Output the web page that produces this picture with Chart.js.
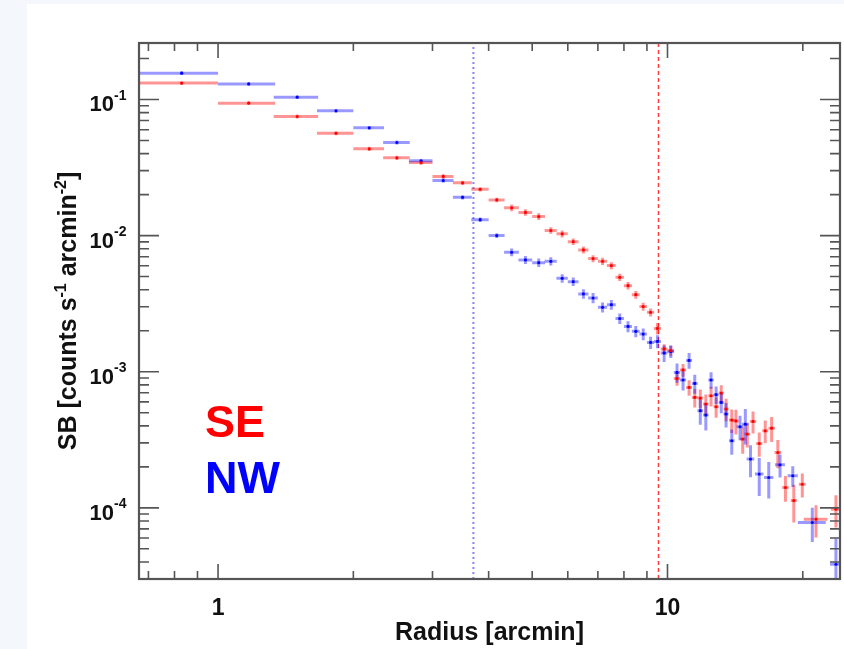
<!DOCTYPE html>
<html>
<head>
<meta charset="utf-8">
<script src="https://cdn.jsdelivr.net/npm/chart.js@4.4.1/dist/chart.umd.min.js"></script>
<style>
  html, body { margin: 0; padding: 0; background: #f4f8fc; }
  #wrap { width: 844px; height: 649px; }
</style>
</head>
<body>
<div id="wrap"><canvas id="sbChart" width="844" height="649"></canvas></div>
<script>
// surface brightness profiles
const seriesNames = ["SE", "NW"];

const seRadius = [0.83, 1.17, 1.5, 1.83, 2.17, 2.5, 2.83, 3.17, 3.5, 3.83,
  4.17, 4.5, 4.83, 5.17, 5.5, 5.83, 6.17, 6.5, 6.83, 7.17,
  7.5, 7.83, 8.17, 8.5, 8.83, 9.17, 9.5, 9.83, 10.17,
  10.5, 10.83, 11.17, 11.5, 11.83, 12.17, 12.5, 12.83, 13.17, 13.5,
  13.9, 14.2, 14.7, 15.05, 15.5, 16.0, 16.5, 17.05, 17.6, 18.3,
  19.1, 19.95, 21.4, 23.7];
const seRadiusErr = [0.17, 0.17, 0.17, 0.17, 0.17, 0.17, 0.17, 0.17, 0.17, 0.17,
  0.17, 0.17, 0.17, 0.17, 0.17, 0.17, 0.17, 0.17, 0.17, 0.17,
  0.17, 0.17, 0.17, 0.17, 0.17, 0.17, 0.17, 0.17, 0.17,
  0.17, 0.17, 0.17, 0.17, 0.17, 0.17, 0.17, 0.17, 0.17, 0.17,
  0.2, 0.2, 0.22, 0.22, 0.25, 0.25, 0.25, 0.28, 0.3, 0.3,
  0.3, 0.35, 1.3, 0.6];
const seSB = [0.132, 0.0939, 0.075, 0.0565, 0.0434, 0.0373, 0.0344, 0.0272, 0.0244, 0.0219,
  0.0183, 0.016, 0.0148, 0.0138, 0.0109, 0.0103, 0.00903, 0.00785, 0.00678, 0.00647,
  0.00602, 0.00494, 0.00429, 0.00368, 0.00301, 0.00273, 0.00208, 0.00147, 0.00143,
  0.00089, 0.00103, 0.000767, 0.000647, 0.00064, 0.000579, 0.000666, 0.000553, 0.000697, 0.000532,
  0.000441, 0.000435, 0.00032, 0.000348, 0.000431, 0.000297, 0.000368, 0.000385, 0.000255, 0.000141,
  0.000113, 0.000149, 0.0000826, 0.0000978];
const seSBErr = [0.004, 0.003, 0.0025, 0.002, 0.0015, 0.0013, 0.0012, 0.001, 0.0009, 0.0008,
  0.0007, 0.0009, 0.0008, 0.0008, 0.0006, 0.0006, 0.0005, 0.00045, 0.0004, 0.0004,
  0.00035, 0.0003, 0.00027, 0.00024, 0.0002, 0.00018, 0.0002, 0.00012, 0.00012,
  0.0001, 0.00011, 0.0001, 0.0001, 0.0001, 0.0001, 0.00011, 0.000095, 0.0001, 0.0001,
  0.000087, 0.00009, 0.00007, 0.00007, 0.00008, 0.00006, 0.00007, 0.00008, 0.00006, 0.00003,
  0.000035, 0.00003, 0.000022, 0.000026];

const nwRadius = [0.83, 1.17, 1.5, 1.83, 2.17, 2.5, 2.83, 3.17, 3.5, 3.83,
  4.17, 4.5, 4.83, 5.17, 5.5, 5.83, 6.17, 6.5, 6.83, 7.17,
  7.5, 7.83, 8.17, 8.5, 8.83, 9.17, 9.5, 9.83, 10.17, 10.5,
  10.83, 11.17, 11.5, 11.83, 12.17, 12.5, 12.83, 13.17, 13.5, 13.9,
  14.5, 14.9, 15.3, 16.0, 16.8, 17.8, 19.0, 21.0, 23.7];
const nwRadiusErr = [0.17, 0.17, 0.17, 0.17, 0.17, 0.17, 0.17, 0.17, 0.17, 0.17,
  0.17, 0.17, 0.17, 0.17, 0.17, 0.17, 0.17, 0.17, 0.17, 0.17,
  0.17, 0.17, 0.17, 0.17, 0.17, 0.17, 0.17, 0.17, 0.17, 0.17,
  0.17, 0.17, 0.17, 0.17, 0.17, 0.17, 0.17, 0.17, 0.17, 0.2,
  0.25, 0.25, 0.3, 0.35, 0.4, 0.45, 0.5, 1.5, 0.7];
const nwSB = [0.156, 0.13, 0.104, 0.0826, 0.0619, 0.0483, 0.0354, 0.0254, 0.0191, 0.0131,
  0.01, 0.00754, 0.00663, 0.00633, 0.00647, 0.00485, 0.00459, 0.00373, 0.00348, 0.00297,
  0.00311, 0.00246, 0.00215, 0.00198, 0.00189, 0.00164, 0.00167, 0.00137, 0.00141, 0.000988,
  0.000869, 0.00121, 0.00082, 0.000517, 0.00048, 0.000869, 0.000678, 0.000595, 0.000489, 0.000311,
  0.000394, 0.000412, 0.000228, 0.000177, 0.000167, 0.000207, 0.000172, 0.000078, 0.0000385];
const nwSBErr = [0.005, 0.004, 0.003, 0.0025, 0.002, 0.0016, 0.0012, 0.0009, 0.0007, 0.0005,
  0.0004, 0.0005, 0.00045, 0.00045, 0.00045, 0.00035, 0.00033, 0.0003, 0.0003, 0.00025,
  0.00026, 0.00022, 0.0002, 0.00019, 0.00019, 0.00017, 0.00018, 0.00019, 0.00015, 0.00016,
  0.00014, 0.00016, 0.00013, 0.00011, 0.00011, 0.00012, 0.0001, 0.0001, 0.0001, 0.000066,
  0.00008, 0.00012, 0.00006, 0.000055, 0.00005, 0.00004, 0.00003, 0.000022, 0.000021];

// vertical markers: NW (blue, dotted) and SE (red, dashed)
const edgeRadius = [3.7, 9.55];

// axes
const xRange = [0.667, 24.2];
const yRange = [3.0e-5, 0.26];
const xMajorTicks = [1, 10];
const xTickLabels = ["1", "10"];
const xMinorTicks = [0.7, 0.8, 0.9, 2, 3, 4, 5, 6, 7, 8, 9, 20];
const yMajorTicks = [1e-4, 1e-3, 1e-2, 1e-1];
const yTickExponents = ["-4", "-3", "-2", "-1"];
const xTitle = "Radius [arcmin]";

const FONT = '"Liberation Sans", Arial, Helvetica, sans-serif';

const backdrop = {
  id: "backdrop",
  beforeDraw(chart) {
    const ctx = chart.ctx;
    ctx.save();
    ctx.fillStyle = "#f4f8fc";
    ctx.fillRect(0, 0, chart.width, chart.height);
    ctx.fillStyle = "#ffffff";
    ctx.fillRect(27, 4, chart.width - 27, chart.height - 4);
    ctx.restore();
  }
};

const edgeLines = {
  id: "edgeLines",
  beforeDatasetsDraw(chart) {
    const { ctx, chartArea: a, scales: { x } } = chart;
    const styles = [
      { color: "rgba(110,110,255,0.85)", dash: [2, 3], width: 2 },
      { color: "rgba(255,40,40,0.9)", dash: [4, 3], width: 1.5 }
    ];
    ctx.save();
    edgeRadius.forEach((r, i) => {
      const px = x.getPixelForValue(r);
      ctx.strokeStyle = styles[i].color;
      ctx.lineWidth = styles[i].width;
      ctx.setLineDash(styles[i].dash);
      ctx.beginPath();
      ctx.moveTo(px, a.bottom);
      ctx.lineTo(px, a.top);
      ctx.stroke();
    });
    ctx.restore();
  }
};

const errorBars = {
  id: "errorBars",
  beforeDatasetsDraw(chart) {
    const { ctx, chartArea: a, scales: { x, y } } = chart;
    ctx.save();
    ctx.beginPath();
    ctx.rect(a.left, a.top, a.right - a.left, a.bottom - a.top);
    ctx.clip();
    chart.data.datasets.forEach(ds => {
      ctx.strokeStyle = ds.errColor;
      ctx.lineWidth = 3;
      ds.data.forEach((p, i) => {
        const px = x.getPixelForValue(p.x);
        const py = y.getPixelForValue(p.y);
        const x0 = x.getPixelForValue(p.x - ds.xErr[i]);
        const x1 = x.getPixelForValue(p.x + ds.xErr[i]);
        const lo = p.y - ds.yErr[i];
        const y0 = lo > 0 ? y.getPixelForValue(lo) : a.bottom + 5;
        const y1 = y.getPixelForValue(p.y + ds.yErr[i]);
        ctx.beginPath();
        ctx.moveTo(x0, py);
        ctx.lineTo(x1, py);
        ctx.moveTo(px, y0);
        ctx.lineTo(px, y1);
        ctx.stroke();
      });
    });
    ctx.restore();
  }
};

// IDL style frame: inward ticks on all four sides, labels and titles
const frame = {
  id: "frame",
  afterDraw(chart) {
    const { ctx, chartArea: a, scales: { x, y } } = chart;
    ctx.save();
    ctx.strokeStyle = "#555";
    ctx.lineWidth = 1.6;

    const tickX = (v, len) => {
      const px = x.getPixelForValue(v);
      ctx.beginPath();
      ctx.moveTo(px, a.bottom); ctx.lineTo(px, a.bottom - len);
      ctx.moveTo(px, a.top); ctx.lineTo(px, a.top + len);
      ctx.stroke();
    };
    const tickY = (v, len) => {
      const py = y.getPixelForValue(v);
      ctx.beginPath();
      ctx.moveTo(a.left, py); ctx.lineTo(a.left + len, py);
      ctx.moveTo(a.right, py); ctx.lineTo(a.right - len, py);
      ctx.stroke();
    };
    xMajorTicks.forEach(v => tickX(v, 15));
    xMinorTicks.forEach(v => tickX(v, 8));
    yMajorTicks.forEach(v => tickY(v, 20));
    for (let e = -5; e <= -1; e++) {
      for (let m = 2; m <= 9; m++) {
        const v = m * Math.pow(10, e);
        if (v > yRange[0] && v < yRange[1]) tickY(v, 10);
      }
    }

    ctx.lineWidth = 2.2;
    ctx.strokeRect(a.left, a.top, a.right - a.left, a.bottom - a.top);

    ctx.fillStyle = "#111";
    ctx.textBaseline = "alphabetic";

    // x tick labels
    ctx.font = "bold 23px " + FONT;
    ctx.textAlign = "center";
    xMajorTicks.forEach((v, i) => {
      ctx.fillText(xTickLabels[i], x.getPixelForValue(v), a.bottom + 36);
    });

    // y tick labels 10^n
    yMajorTicks.forEach((v, i) => {
      const py = y.getPixelForValue(v);
      ctx.font = "bold 22px " + FONT;
      ctx.textAlign = "right";
      ctx.fillText("10", 114, py + 12);
      ctx.font = "bold 14px " + FONT;
      ctx.textAlign = "left";
      ctx.fillText(yTickExponents[i], 114, py + 0.5);
    });

    // x title
    ctx.font = "bold 25px " + FONT;
    ctx.textAlign = "center";
    ctx.fillText(xTitle, (a.left + a.right) / 2, 640);

    // y title with superscripts
    const parts = [
      { t: "SB [counts s", sup: false },
      { t: "-1", sup: true },
      { t: " arcmin", sup: false },
      { t: "-2", sup: true },
      { t: "]", sup: false }
    ];
    const big = "bold 25px " + FONT, small = "bold 16px " + FONT;
    let total = 0;
    parts.forEach(p => { ctx.font = p.sup ? small : big; p.w = ctx.measureText(p.t).width; total += p.w; });
    ctx.translate(76, (a.top + a.bottom) / 2);
    ctx.rotate(-Math.PI / 2);
    ctx.textAlign = "left";
    let cx = -total / 2;
    parts.forEach(p => {
      ctx.font = p.sup ? small : big;
      ctx.fillText(p.t, cx, p.sup ? -10 : 0);
      cx += p.w;
    });
    ctx.setTransform(1, 0, 0, 1, 0, 0);

    // series names
    ctx.font = "bold 45px " + FONT;
    ctx.textAlign = "left";
    ctx.fillStyle = "#ff0000";
    ctx.fillText(seriesNames[0], 205, 437);
    ctx.fillStyle = "#0000ff";
    ctx.fillText(seriesNames[1], 205, 493);
    ctx.restore();
  }
};

const ctx = document.getElementById("sbChart").getContext("2d");

new Chart(ctx, {
  type: "scatter",
  data: {
    datasets: [
      {
        label: seriesNames[0],
        data: seRadius.map((r, i) => ({ x: r, y: seSB[i] })),
        xErr: seRadiusErr,
        yErr: seSBErr,
        errColor: "rgba(255,0,0,0.42)",
        pointRadius: 1.6,
        pointBorderWidth: 0,
        pointBackgroundColor: "#ff0000",
      },
      {
        label: seriesNames[1],
        data: nwRadius.map((r, i) => ({ x: r, y: nwSB[i] })),
        xErr: nwRadiusErr,
        yErr: nwSBErr,
        errColor: "rgba(0,0,255,0.4)",
        pointRadius: 1.6,
        pointBorderWidth: 0,
        pointBackgroundColor: "#0000ff",
      },
    ],
  },
  options: {
    responsive: false,
    animation: false,
    events: [],
    layout: { padding: { left: 139, top: 43, right: 3, bottom: 70 } },
    plugins: {
      legend: { display: false },
      tooltip: { enabled: false },
    },
    scales: {
      x: { type: "logarithmic", min: xRange[0], max: xRange[1], display: false },
      y: { type: "logarithmic", min: yRange[0], max: yRange[1], display: false },
    },
  },
  plugins: [backdrop, edgeLines, errorBars, frame],
});
</script>
</body>
</html>
